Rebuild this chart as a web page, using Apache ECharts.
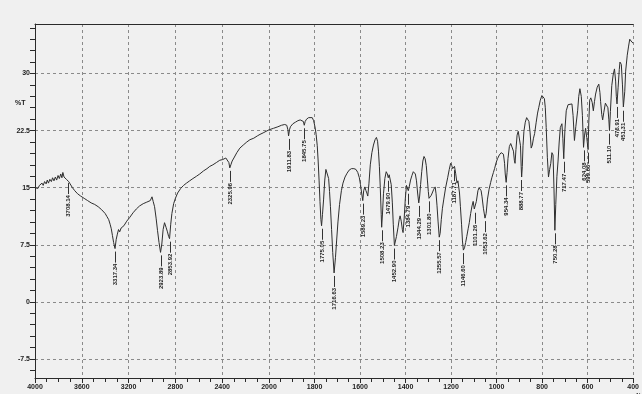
<!DOCTYPE html>
<html><head><meta charset="utf-8">
<script src="https://cdn.jsdelivr.net/npm/echarts@6/dist/echarts.min.js"></script>
<style>html,body{margin:0;padding:0;background:#f0f0f0}#c{width:642px;height:394px}</style>
</head><body><div id="c"></div>
<script>
// IR spectrum: wavenumber (1/cm) vs transmittance (%T)
const specWave = [4000,3985,3975,3962,3950,3940,3930,3918,3905,3895,3885,3873,3860,3850,3838,3826,3815,3803,3792,3780,3770,3762,3752,3742,3732,3722,3712,3700,3690,3680,3670,3660,3648,3636,3622,3610,3595,3580,3565,3550,3535,3520,3505,3490,3475,3460,3445,3430,3415,3400,3385,3370,3358,3348,3338,3328,3316,3306,3296,3286,3276,3264,3252,3240,3228,3216,3204,3190,3176,3162,3148,3134,3120,3106,3090,3075,3060,3045,3030,3015,3000,2990,2978,2965,2953,2940,2927,2916,2905,2893,2880,2868,2858,2850,2840,2830,2815,2800,2781,2755,2730,2705,2678,2650,2620,2592,2560,2530,2506,2480,2450,2421,2395,2369,2352,2343,2335,2326,2315,2300,2275,2249,2220,2190,2163,2130,2100,2077,2050,2025,2000,
1980,1961,1945,1931,1922,1917,1914,1910,1906,1895,1884,1873,1863,1855,1849,1845,1841,1835,1826,1818,1810,1804,1798,1793,1788,1784,1780,1776,1772,1769,1765,1760,1755,1750,1746,1742,1738,1734,1730,1725,1720,1714,1708,1703,1697,1690,1682,1675,1666,1657,1648,1638,1627,1618,1610,1603,1598,1593,1588,1584,1579,1574,1570,1566,1561,1555,1548,1541,1534,1528,1523,1519,1515,1511,1507,1505,1501,1497,1491,1485,1480,1476,1472,1468,1463,1458,1454,1449,1445,1440,1433,1428,1424,1419,1414,1411,1406,1401,1396,1391,1388,1384,1378,1372,1366,1361,1357,1352,1347,1342,1338,1334,1329,1324,1319,1314,1309,1304,1300,1297,1292,1287,1282,1276,1270,1266,1262,1257,1252,1248,1243,1238,1232,1224,1215,1208,1202,1197,1193,1189,1185,1180,1174,1170,1167,1163,1159,1154,1150,1146,1141,1136,1131,1125,1120,1114,1108,1103,1098,1094,1089,1082,1077,1073,1068,1064,1058,1051,1046,1040,1033,1026,1021,1014,1009,1002,996,988,980,975,970,965,962,958,954,950,944,938,931,926,922,919,915,910,905,899,895,892,890,887,884,880,874,868,862,858,853,848,843,838,833,826,820,815,808,801,795,790,786,782,777,772,767,762,757,752,748,744,740,735,730,725,720,713,709,705,700,694,686,679,669,664,658,652,644,639,634,628,623,618,614,609,604,598,595,591,586,580,575,570,565,558,551,546,543,538,534,529,522,516,511,507,504,500,494,488,482,477,474,471,466,461,458,452,447,443,440,437,433,426,420,415,410,405,400];
const specT = [15.0,15.2,14.9,15.3,15.1,15.6,15.3,15.8,15.5,16.0,15.6,16.1,15.8,16.3,15.9,16.4,16.0,16.6,16.2,16.8,16.3,17.0,16.4,16.6,16.1,16.3,15.8,15.5,15.6,15.0,15.2,14.6,14.8,14.2,14.4,13.9,14.1,13.6,13.8,13.3,13.5,13.0,13.2,12.8,12.9,12.5,12.6,12.1,12.2,11.6,11.2,10.8,10.2,9.6,8.7,7.8,7.0,8.2,8.9,9.5,9.2,9.7,9.5,10.0,10.1,10.6,10.7,11.1,11.3,11.7,11.8,12.2,12.3,12.6,12.6,12.9,12.8,13.1,13.0,13.3,13.8,13.2,12.5,11.0,9.4,7.8,6.5,7.6,9.5,10.4,9.8,9.2,8.6,8.3,10.2,11.6,12.9,13.6,14.3,14.9,15.3,15.6,15.9,16.2,16.5,16.8,17.2,17.5,17.8,18.0,18.3,18.6,18.7,18.9,18.8,18.3,17.6,18.0,18.5,18.9,19.6,20.2,20.6,21.0,21.3,21.5,21.8,22.0,22.2,22.4,22.6,
22.8,23.0,23.2,23.3,23.2,22.6,21.8,22.6,23.0,23.4,23.6,23.8,23.9,23.9,23.7,23.2,23.7,24.0,24.2,24.3,24.2,23.8,23.0,22.0,20.5,18.5,16.0,13.2,10.8,10.0,11.5,13.5,16.0,17.4,17.6,17.2,16.2,14.5,12.5,9.5,6.5,3.8,5.8,8.0,10.5,12.8,14.6,15.6,16.4,16.9,17.3,17.5,17.5,17.4,17.0,16.3,15.4,14.3,13.3,14.6,15.1,14.6,14.3,13.9,15.5,18.0,19.6,20.6,21.3,21.6,21.1,19.8,17.8,15.0,11.5,9.8,11.8,14.2,16.2,17.1,16.8,16.3,16.7,16.6,15.4,13.0,10.2,7.4,7.6,8.6,9.8,10.8,11.3,10.6,9.5,9.1,11.0,13.6,15.3,15.2,14.6,15.1,16.0,16.6,17.1,17.2,16.8,15.9,14.3,13.0,13.9,15.4,17.1,18.5,19.1,18.8,17.9,16.0,14.5,13.6,13.7,14.0,14.2,14.8,15.1,14.2,12.7,10.5,8.5,9.0,10.8,12.3,13.5,15.0,16.3,17.4,18.2,17.9,17.5,17.7,17.8,16.9,15.6,15.9,15.7,14.3,12.5,10.2,8.0,6.8,7.1,7.8,8.6,9.6,10.4,11.6,12.6,13.2,12.2,12.1,13.2,14.6,15.0,15.1,14.6,13.8,12.3,11.0,11.6,13.5,14.8,15.7,16.3,17.0,17.5,18.3,18.8,19.3,19.6,19.7,19.4,18.2,16.8,15.7,17.0,18.8,20.4,20.8,20.7,19.8,18.6,18.2,20.0,21.9,22.4,22.4,20.5,17.8,16.4,17.8,20.5,22.4,23.6,24.2,24.1,23.7,22.3,20.2,20.6,21.5,22.1,23.6,24.8,25.5,26.5,27.1,27.0,26.7,25.5,22.9,19.0,16.4,17.4,18.2,19.6,19.3,15.0,9.4,12.8,16.5,18.5,21.0,22.9,23.4,21.5,18.8,22.5,25.1,25.9,26.1,26.0,24.5,21.2,23.0,25.1,27.0,28.0,27.0,24.5,20.3,21.8,22.8,21.6,20.0,23.5,26.5,26.8,26.2,25.1,26.3,27.3,28.2,28.6,27.5,26.3,24.6,23.9,24.9,26.1,26.3,25.5,24.0,22.5,25.0,28.4,29.8,30.6,29.0,27.0,26.0,28.2,30.5,31.5,31.2,28.5,25.6,25.5,27.6,30.3,32.4,33.6,34.5,34.5,34.1,34.0];

const peakWave = [3720,3316,2927,2850,2335,1914,1845,1769,1714,1588,1505,1476,1449,1388,1342,1297,1252,1187,1146,1097,1051,958,891,744,706,618,598,505,472,443];
const peakT = [16.0,7.0,6.5,8.3,17.6,21.8,23.2,10.0,3.8,13.3,9.8,16.3,7.4,14.6,13.0,13.6,8.5,17.7,6.8,12.1,11.0,15.7,16.4,9.4,18.8,20.3,20.0,22.5,26.0,25.5];
const peakLabel = ["3708.14","3317.34","2923.89","2853.92","2325.96","1911.83","1845.75","1775.05","1716.63","1589.23","1508.23","1479.90","1452.90","1384.79","1344.29","1301.80","1255.57","1187.71","1146.60","1101.26","1053.62","954.34","888.77","750.28","717.47","624.08","599.66","511.10","476.91","451.31"];

const yTickLabels = [-7.5, 0, 7.5, 15, 22.5, 30];
const yMinorStep = 1.5;
const xHighRange = [2000, 4000], xHighStep = 400;
const xLowRange = [400, 2000], xLowStep = 200;
const Y_MIN = -10, Y_MAX = 36.5;

const hi = [], lo = [];
specWave.forEach((w, i) => {
  if (w >= 2000) hi.push([w, specT[i]]);
  if (w <= 2000) lo.push([w, specT[i]]);
});
const pkHi = [], pkLo = [], lbHi = [], lbLo = [];
peakWave.forEach((w, i) => {
  if (w >= 2000) { pkHi.push([w, peakT[i]]); lbHi.push(peakLabel[i]); }
  else { pkLo.push([w, peakT[i]]); lbLo.push(peakLabel[i]); }
});
const yMinor = [];
for (let k = Math.ceil(Y_MIN / yMinorStep); k * yMinorStep <= Y_MAX; k++) yMinor.push(+(k * yMinorStep).toFixed(2));

const AX = '#2a2a2a';
const plain = v => String(v);
const gridLine = { show: true, lineStyle: { color: '#8a8a8a', width: 1, type: [3, 3] } };
const lblFont = { fontSize: 7, fontWeight: 'bold', color: '#222', fontFamily: 'Liberation Sans Narrow, Liberation Sans, sans-serif', formatter: plain };

function peakRenderer(labels) {
  return function (params, api) {
    const p = api.coord([api.value(0), api.value(1)]);
    const x = Math.round(p[0]) + 0.5;
    const y0 = p[1] + 3;
    const y1 = y0 + 11;
    return {
      type: 'group',
      children: [
        { type: 'line', shape: { x1: x, y1: y0, x2: x, y2: y1 }, style: { stroke: '#333', lineWidth: 1 } },
        { type: 'text', x: x, y: y1 + 1, rotation: Math.PI / 2,
          style: { text: labels[params.dataIndex], fill: '#222', font: 'bold 6px "Liberation Sans", sans-serif', align: 'right', verticalAlign: 'middle' } }
      ]
    };
  };
}

function xAxisBottom(gi, range, step, showMax) {
  return {
    gridIndex: gi, type: 'value', min: range[0], max: range[1], interval: step, inverse: true, position: 'bottom',
    axisLine: { show: true, onZero: false, lineStyle: { color: AX, width: 1 } },
    axisTick: { show: true, length: 5, lineStyle: { color: AX } },
    minorTick: { show: true, splitNumber: 4, length: 4, lineStyle: { color: AX } },
    axisLabel: Object.assign({ margin: 6, showMaxLabel: showMax, showMinLabel: true }, lblFont),
    splitLine: gridLine
  };
}
function xAxisTop(gi, range) {
  return {
    gridIndex: gi, type: 'value', min: range[0], max: range[1], inverse: true, position: 'top',
    axisLine: { show: true, onZero: false, lineStyle: { color: AX, width: 1 } },
    axisTick: { show: false }, axisLabel: { show: false }, splitLine: { show: false }
  };
}

const chart = echarts.init(document.getElementById('c'), null, { renderer: 'canvas' });
chart.setOption({
  animation: false,
  backgroundColor: '#f0f0f0',
  title: [
    { text: '%T', left: 10, top: 95, textStyle: { fontSize: 7, fontWeight: 'bold', color: '#222', fontFamily: 'Liberation Sans Narrow, sans-serif' } },
    { text: '1/cm', left: 631, top: 388, textStyle: { fontSize: 5, fontWeight: 'bold', color: '#222', fontFamily: 'Liberation Sans Narrow, sans-serif' } }
  ],
  grid: [
    { left: 35, top: 24, width: 234, height: 354 },
    { left: 269, top: 24, width: 373, height: 354 }
  ],
  xAxis: [
    xAxisBottom(0, xHighRange, xHighStep, true),
    xAxisTop(0, xHighRange),
    xAxisBottom(1, xLowRange, xLowStep, false),
    xAxisTop(1, xLowRange)
  ],
  yAxis: [
    { gridIndex: 0, type: 'value', min: Y_MIN, max: Y_MAX, position: 'left',
      axisLine: { show: true, onZero: false, lineStyle: { color: AX, width: 1 } },
      axisTick: { show: true, length: 5, customValues: yTickLabels, lineStyle: { color: AX } },
      axisLabel: Object.assign({ customValues: yTickLabels, margin: 5 }, lblFont),
      splitLine: gridLine },
    { gridIndex: 0, type: 'value', min: Y_MIN, max: Y_MAX, position: 'left',
      axisLine: { show: false },
      axisTick: { show: true, length: 5, customValues: yMinor, lineStyle: { color: AX } },
      axisLabel: { show: false }, splitLine: { show: false } },
    { gridIndex: 1, type: 'value', min: Y_MIN, max: Y_MAX, position: 'left',
      axisLine: { show: false },
      axisTick: { show: false, customValues: yTickLabels },
      axisLabel: { show: false, customValues: yTickLabels },
      splitLine: gridLine }
  ],
  series: [
    { type: 'line', xAxisIndex: 0, yAxisIndex: 0, data: hi, showSymbol: false, symbol: 'none',
      lineStyle: { color: '#2e2e2e', width: 1 } },
    { type: 'line', xAxisIndex: 2, yAxisIndex: 2, data: lo, showSymbol: false, symbol: 'none',
      lineStyle: { color: '#2e2e2e', width: 1 } },
    { type: 'custom', xAxisIndex: 0, yAxisIndex: 0, data: pkHi, renderItem: peakRenderer(lbHi), clip: false },
    { type: 'custom', xAxisIndex: 2, yAxisIndex: 2, data: pkLo, renderItem: peakRenderer(lbLo), clip: false }
  ]
});
</script>
</body></html>
